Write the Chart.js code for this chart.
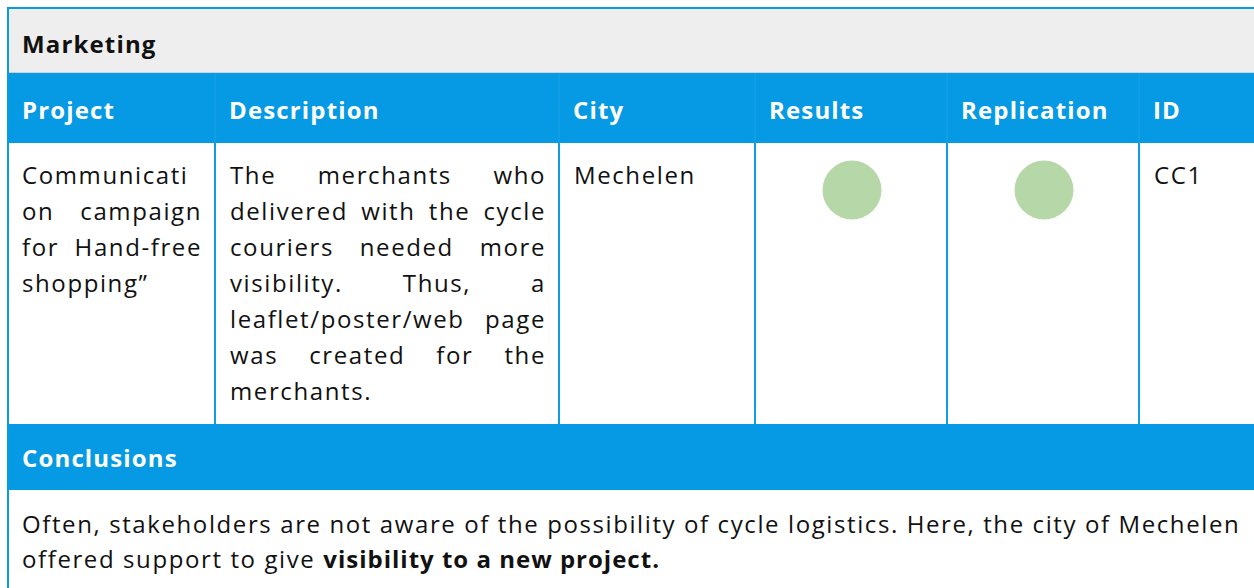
<!DOCTYPE html>
<html>
<head>
<meta charset="utf-8">
<script src="https://cdn.jsdelivr.net/npm/chart.js@4/dist/chart.umd.min.js"></script>
<style>
  html, body { margin:0; padding:0; background:#fff; width:1254px; height:588px; overflow:hidden; }
  body { font-family: "Open Sans", Lato, sans-serif; color:#111; position:relative; }
  .abs { position:absolute; }
  .hdr { color:#fff; font-weight:700; font-size:24px; line-height:30px; position:absolute; white-space:nowrap; letter-spacing:1.15px; }
  .cell { position:absolute; font-size:24px; line-height:36px; white-space:nowrap; letter-spacing:1.6px; }
  .cell b { letter-spacing:1.0px; }
  .jl { text-align:justify; text-align-last:justify; white-space:nowrap; }
  .jl.last { text-align-last:left; }
  .vline { position:absolute; width:2px; background:#0f9de6; }
</style>
</head>
<body>
<div id="root"></div>
<canvas id="status" width="384" height="94" style="position:absolute;left:756px;top:143px;width:384px;height:94px;"></canvas>
<script>
const sectionTitle = 'Marketing';
const columnLabels = ['Project', 'Description', 'City', 'Results', 'Replication', 'ID'];
const projectLines = ['Communicati', 'on campaign', 'for Hand-free', 'shopping\u201d'];
const descriptionLines = ['The merchants who', 'delivered with the cycle', 'couriers needed more', 'visibility. Thus, a', 'leaflet/poster/web page', 'was created for the', 'merchants.'];
const cityValue = 'Mechelen';
const idValue = 'CC1';
const statusLabels = ['Results', 'Replication'];
const statusValues = [1, 1];
const conclusionsTitle = 'Conclusions';
const conclusionLine1 = 'Often, stakeholders are not aware of the possibility of cycle logistics. Here, the city of Mechelen';
const conclusionLine2 = 'offered support to give ';
const conclusionBold = 'visibility to a new project.';

const root = document.getElementById('root');
function el(tag, cls, style, html) {
  const e = document.createElement(tag);
  if (cls) e.className = cls;
  if (style) e.style.cssText = style;
  if (html !== undefined) e.innerHTML = html;
  root.appendChild(e);
  return e;
}
// outer borders
el('div', 'abs', 'left:7px;top:7px;width:1260px;height:2px;background:#0a9be3;');
el('div', 'abs', 'left:7px;top:7px;width:2px;height:600px;background:#0a9be3;');
// grey title band
el('div', 'abs', 'left:9px;top:9px;width:1260px;height:63px;background:#eeeeee;');
el('div', 'abs', 'left:9px;top:72px;width:1260px;height:1px;background:#c9d3da;');
el('div', 'hdr', 'left:22px;top:29px;color:#111;', sectionTitle);
// blue header row
el('div', 'abs', 'left:9px;top:73px;width:1260px;height:70px;background:#059ae3;');
const colX = [9, 216, 560, 756, 948, 1140];
columnLabels.forEach((c, i) => {
  el('div', 'hdr', 'left:' + (colX[i] + 13) + 'px;top:95px;', c);
});
// body row dividers
[216, 560, 756, 948, 1140].forEach(x => {
  el('div', 'vline', 'left:' + (x - 2) + 'px;top:73px;height:351px;');
});
function justified(lines, left, width, top) {
  const box = el('div', 'cell', 'left:' + left + 'px;top:' + top + 'px;width:' + width + 'px;');
  lines.forEach((l, i) => {
    const d = document.createElement('div');
    d.className = 'jl' + (i === lines.length - 1 ? ' last' : '');
    d.textContent = l;
    box.appendChild(d);
  });
}
justified(projectLines, 22, 180, 157);
justified(descriptionLines, 230, 316, 157);
el('div', 'cell', 'left:574px;top:157px;', cityValue);
el('div', 'cell', 'left:1154px;top:157px;', idValue);
// conclusions band
el('div', 'abs', 'left:9px;top:424px;width:1260px;height:66px;background:#059ae3;');
el('div', 'hdr', 'left:22px;top:443px;', conclusionsTitle);
el('div', 'cell', 'left:22px;top:506px;line-height:35px;', conclusionLine1 + '<br>' + conclusionLine2 + '<b>' + conclusionBold + '</b>');

// status markers drawn with Chart.js
new Chart(document.getElementById('status'), {
  type: 'line',
  data: {
    labels: statusLabels,
    datasets: [{
      data: statusValues,
      showLine: false,
      pointRadius: 29.5,
      pointHoverRadius: 29.5,
      pointBackgroundColor: '#b6d7a8',
      pointBorderWidth: 0,
      borderWidth: 0,
      clip: false
    }]
  },
  options: {
    responsive: false,
    animation: false,
    events: [],
    layout: { padding: 0, autoPadding: false },
    scales: {
      x: { display: false, offset: true },
      y: { display: false, min: 0, max: 2 }
    },
    plugins: { legend: { display: false }, tooltip: { enabled: false } }
  }
});
</script>
</body>
</html>
